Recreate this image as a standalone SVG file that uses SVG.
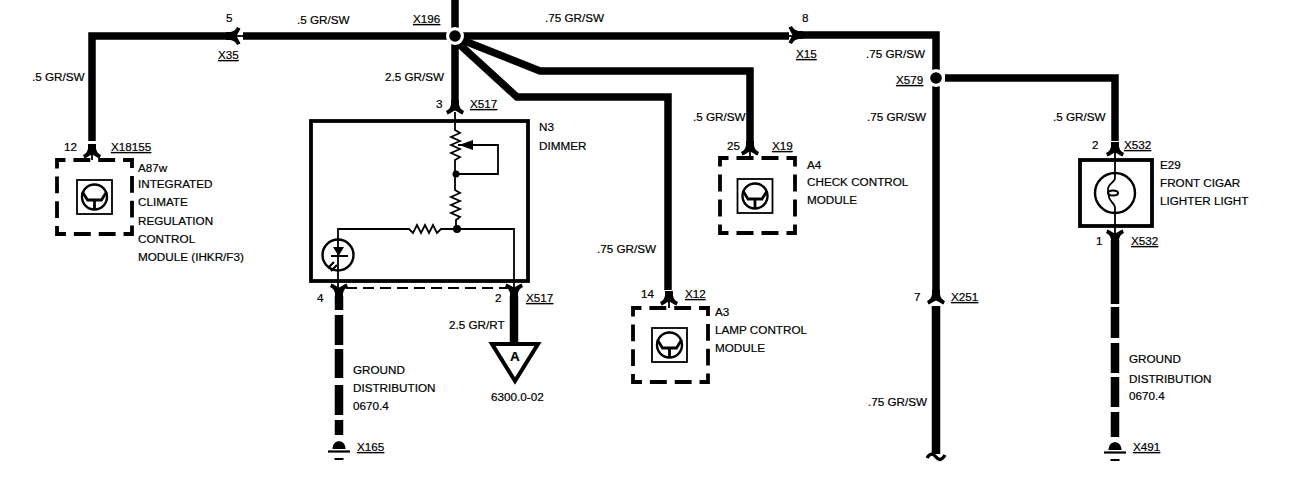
<svg xmlns="http://www.w3.org/2000/svg" width="1305" height="499" viewBox="0 0 1305 499">
<style>
text{font-family:"Liberation Sans",Arial,sans-serif;font-size:11.7px;fill:#000;stroke:#000;stroke-width:.2}
.u{text-decoration:underline;text-underline-offset:3px}
.w{fill:none;stroke:#000;stroke-width:7.5;stroke-linejoin:miter}
.h{fill:none;stroke:#000;stroke-width:8.500}
.t{fill:none;stroke:#000;stroke-width:1.8}
.b{fill:none;stroke:#000;stroke-width:3.8}
.d{fill:none;stroke:#000;stroke-width:3.8;stroke-dasharray:17 8;stroke-dashoffset:8.500}
.l{fill:none;stroke:#000;stroke-width:2;stroke-dasharray:11 6}
.k{fill:#000}
</style>
<defs>
<path id="fork" d="M-4,-8L4,-8L4,-3.500C4.500,0 6.500,2 9,3L7.500,6.500C4.500,5 2,3.500 0,2.500C-2,3.500 -4.500,5 -7.500,6.500L-9,3C-6.500,2 -4.500,0 -4,-3.500Z"/>
<g id="tr">
<rect x="-17.500" y="-17" width="35" height="34" class="t"/>
<circle r="12.500" fill="none" stroke="#000" stroke-width="2.400"/>
<path d="M-12,-5L-7,3M12,-5L7,3M-8,3H8M0,3V12" fill="none" stroke="#000" stroke-width="2.800"/>
</g>
<g id="earth">
<path d="M-6.500,0C-6.500,-10.500 6.500,-10.500 6.500,0Z" class="k"/>
<path d="M-11,2.500H11" stroke="#000" stroke-width="2.200"/>
<path d="M-4.500,10H4.500" stroke="#000" stroke-width="2"/>
</g>
</defs>

<g id="connectors">
<path class="w" d="M455,0V100"/>
<path class="w" d="M448,36H243"/>
<path class="t" d="M243,36H230"/>
<path class="w" d="M230,36H92V141"/>
<path class="w" d="M462,36H789"/>
<path class="t" d="M789,36H797"/>
<path class="w" d="M797,35H936V293"/>
<path class="w" d="M462,40L540,71H750V141"/>
<path class="w" d="M459,44L517,97H668V290"/>
<path class="w" d="M945,78H1115V141"/>
<path class="h" d="M936,306V454"/>
<path class="h" d="M339,296V310M339,315V345M339,349V378M339,385V415M339,420V435"/>
<path class="h" d="M514,296V344"/>
<path class="h" d="M1115,240V304M1115,307V338M1115,343V373M1115,377V407M1115,412V437"/>
<path d="M927,458C930,453 933,453 936,457C939,461 942,460 945,455" fill="none" stroke="#000" stroke-width="3.400"/>
<path class="l" d="M346,288H508"/>
<use href="#fork" transform="translate(92,152)"/>
<use href="#fork" transform="translate(750,149)"/>
<use href="#fork" transform="translate(669,299)"/>
<use href="#fork" transform="translate(455,108)"/>
<use href="#fork" transform="translate(1115,150)"/>
<use href="#fork" transform="translate(936,298)"/>
<use href="#fork" transform="translate(339,290) scale(1,-1)"/>
<use href="#fork" transform="translate(514,290) scale(1,-1)"/>
<use href="#fork" transform="translate(1115,236) scale(1,-1)"/>
<use href="#fork" transform="translate(234,36) rotate(-90)"/>
<use href="#fork" transform="translate(795,35) rotate(90)"/>
<path class="t" d="M92,152V160M750,149V157M669,299V308M1115,150V160M1115,226V236"/>
</g>

<g id="junction-x196"><circle cx="455" cy="36" r="9" fill="#fff"/><circle cx="455" cy="36" r="5.800" class="k"/></g>
<g id="junction-x579"><circle cx="936" cy="78" r="9" fill="#fff"/><circle cx="936" cy="78" r="5.800" class="k"/></g>

<g id="wire-labels">
<text x="297" y="24">.5 GR/SW</text>
<text x="545" y="22">.75 GR/SW</text>
<text x="226" y="22">5</text>
<text x="802" y="22">8</text>
<text x="413" y="23" class="u">X196</text>
<text x="218" y="59" class="u">X35</text>
<text x="796" y="58" class="u">X15</text>
<text x="32" y="81">.5 GR/SW</text>
<text x="385" y="81">2.5 GR/SW</text>
<text x="866" y="58">.75 GR/SW</text>
<text x="896" y="84" class="u">X579</text>
<text x="867" y="121">.75 GR/SW</text>
<text x="1053" y="121">.5 GR/SW</text>
<text x="693" y="121">.5 GR/SW</text>
<text x="597" y="253">.75 GR/SW</text>
<text x="868" y="406">.75 GR/SW</text>
<text x="914" y="301">7</text>
<text x="951" y="301" class="u">X251</text>
</g>

<g id="n3-dimmer">
<rect x="311" y="121" width="217" height="160" class="b"/>
<path class="t" d="M455,112V130L460,133L451,137L460,141L451,145L460,149L451,153L460,157L455,160V174V190L460,193L451,197L460,201L451,205L460,209L451,213L460,217L456,220V229"/>
<path class="t" d="M458,145H498V174H456"/>
<path class="k" d="M459,145L473,140V150Z"/>
<circle cx="456" cy="174" r="3.500" class="k"/>
<circle cx="457" cy="229" r="4" class="k"/>
<path class="t" d="M338,290V229H409L413,233L417,225L421,233L425,225L429,233L433,225L437,233L441,229H514V290"/>
<circle cx="338" cy="255" r="15.500" fill="none" stroke="#000" stroke-width="2.400"/>
<path class="k" d="M333,247H344L338.500,256Z"/>
<path d="M331,256H348M334,262L328,268M337,265L331,271" stroke="#000" stroke-width="2.200" fill="none"/>
<text x="539" y="131">N3</text>
<text x="539" y="150">DIMMER</text>
<text x="436" y="108">3</text>
<text x="470" y="108" class="u">X517</text>
<text x="317" y="302">4</text>
<text x="495" y="302">2</text>
<text x="526" y="302" class="u">X517</text>
<text x="449" y="329">2.5 GR/RT</text>
</g>

<g id="a87w">
<rect x="57" y="160" width="75" height="74" pathLength="300" class="d"/>
<use href="#tr" transform="translate(94.500,197)"/>
<text x="64" y="151">12</text>
<text x="111" y="151" class="u">X18155</text>
<text x="138" y="172">A87w</text>
<text x="138" y="188">INTEGRATED</text>
<text x="138" y="206">CLIMATE</text>
<text x="138" y="225">REGULATION</text>
<text x="138" y="243">CONTROL</text>
<text x="138" y="261">MODULE (IHKR/F3)</text>
</g>

<g id="a4">
<rect x="720" y="158" width="75" height="75" pathLength="300" class="d"/>
<use href="#tr" transform="translate(755,196)"/>
<text x="727" y="150">25</text>
<text x="772" y="150" class="u">X19</text>
<text x="807" y="169">A4</text>
<text x="807" y="186">CHECK CONTROL</text>
<text x="807" y="204">MODULE</text>
</g>

<g id="a3">
<rect x="633" y="308" width="75" height="74" pathLength="300" class="d"/>
<use href="#tr" transform="translate(669.500,345)"/>
<text x="641" y="298">14</text>
<text x="685" y="298" class="u">X12</text>
<text x="715" y="316">A3</text>
<text x="715" y="334">LAMP CONTROL</text>
<text x="715" y="352">MODULE</text>
</g>

<g id="e29">
<rect x="1080" y="160" width="72" height="66" class="b"/>
<circle cx="1115" cy="193" r="20" fill="none" stroke="#000" stroke-width="2.400"/>
<path class="t" d="M1115,160V178C1115,182 1108,184 1108,189C1108,193 1109,195 1109,197C1109,201 1115,203 1115,208V226"/>
<ellipse cx="1113" cy="193" rx="5" ry="2.500" fill="none" stroke="#000" stroke-width="2"/>
<text x="1092" y="149">2</text>
<text x="1124" y="149" class="u">X532</text>
<text x="1160" y="169">E29</text>
<text x="1160" y="187">FRONT CIGAR</text>
<text x="1160" y="205">LIGHTER LIGHT</text>
<text x="1096" y="245">1</text>
<text x="1131" y="245" class="u">X532</text>
</g>

<g id="ref-a">
<path d="M492,344H538L515,381Z" fill="#fff" stroke="#000" stroke-width="4"/>
<text x="510" y="361" style="font-weight:bold;font-size:13.500px">A</text>
<text x="491" y="401">6300.0-02</text>
</g>

<g id="ground-x165">
<use href="#earth" transform="translate(339,449)"/>
<text x="353" y="374">GROUND</text>
<text x="353" y="392">DISTRIBUTION</text>
<text x="353" y="410">0670.4</text>
<text x="357" y="451" class="u">X165</text>
</g>

<g id="ground-x491">
<use href="#earth" transform="translate(1115,450)"/>
<text x="1129" y="363">GROUND</text>
<text x="1129" y="383">DISTRIBUTION</text>
<text x="1129" y="400">0670.4</text>
<text x="1133" y="451" class="u">X491</text>
</g>
</svg>
